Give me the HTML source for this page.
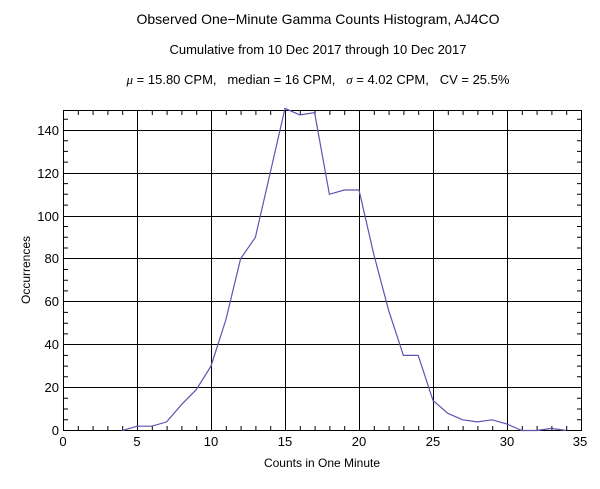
<!DOCTYPE html>
<html><head><style>
body{margin:0;background:#fff;}
svg{display:block;font-family:"Liberation Sans",sans-serif;}
</style></head><body>
<svg width="600" height="489" xmlns="http://www.w3.org/2000/svg">
<rect width="600" height="489" fill="#fff"/>
<text x="318" y="24" font-size="14" text-anchor="middle">Observed One−Minute Gamma Counts Histogram, AJ4CO</text>
<text x="318" y="54" font-size="13" text-anchor="middle">Cumulative from 10 Dec 2017 through 10 Dec 2017</text>
<text x="318" y="84" font-size="13" text-anchor="middle" style="white-space:pre"><tspan font-style="italic" font-family="Liberation Serif">μ</tspan> = 15.80 CPM,   median = 16 CPM,   <tspan font-style="italic" font-family="Liberation Serif">σ</tspan> = 4.02 CPM,   CV = 25.5%</text>
<g stroke="#000" stroke-width="1" fill="none">
<rect x="63.5" y="110.5" width="518" height="320"/>
<path d="M137.5 110V430M211.5 110V430M285.5 110V430M359.5 110V430M433.5 110V430M507.5 110V430"/>
<path d="M63 387.5H581M63 344.5H581M63 301.5H581M63 258.5H581M63 216.5H581M63 173.5H581M63 130.5H581"/>
<path d="M78.3 430V426M93.1 430V426M107.9 430V426M122.7 430V426M152.3 430V426M167.1 430V426M181.9 430V426M196.7 430V426M226.3 430V426M241.1 430V426M255.9 430V426M270.7 430V426M300.3 430V426M315.1 430V426M329.9 430V426M344.7 430V426M374.3 430V426M389.1 430V426M403.9 430V426M418.7 430V426M448.3 430V426M463.1 430V426M477.9 430V426M492.7 430V426M522.3 430V426M537.1 430V426M551.9 430V426M566.7 430V426"/>
<path d="M78.3 111V115M93.1 111V115M107.9 111V115M122.7 111V115M152.3 111V115M167.1 111V115M181.9 111V115M196.7 111V115M226.3 111V115M241.1 111V115M255.9 111V115M270.7 111V115M300.3 111V115M315.1 111V115M329.9 111V115M344.7 111V115M374.3 111V115M389.1 111V115M403.9 111V115M418.7 111V115M448.3 111V115M463.1 111V115M477.9 111V115M492.7 111V115M522.3 111V115M537.1 111V115M551.9 111V115M566.7 111V115"/>
<path d="M64 419.8H68M64 409H68M64 398.3H68M64 376.8H68M64 366.1H68M64 355.4H68M64 333.9H68M64 323.2H68M64 312.4H68M64 290.9H68M64 280.2H68M64 269.5H68M64 248H68M64 237.3H68M64 226.5H68M64 205.1H68M64 194.3H68M64 183.6H68M64 162.1H68M64 151.4H68M64 140.7H68M64 119.2H68"/>
<path d="M581 419.8H577M581 409H577M581 398.3H577M581 376.8H577M581 366.1H577M581 355.4H577M581 333.9H577M581 323.2H577M581 312.4H577M581 290.9H577M581 280.2H577M581 269.5H577M581 248H577M581 237.3H577M581 226.5H577M581 205.1H577M581 194.3H577M581 183.6H577M581 162.1H577M581 151.4H577M581 140.7H577M581 119.2H577"/>
</g>
<polyline fill="none" stroke="#5b55b0" stroke-width="1.2" points="122.2,430.5 137,426.2 151.8,426.2 166.6,421.9 181.4,404.7 196.2,389.7 211,366.1 225.8,320 240.6,258.7 255.4,237.3 270.2,172.9 285,108.4 299.8,114.9 314.6,112.7 329.4,194.3 344.2,190 359,190 373.8,254.4 388.6,310.3 403.4,355.4 418.2,355.4 433,400.4 447.8,413.3 462.6,419.8 477.4,421.9 492.2,419.8 507,424.1 521.8,430.5 536.6,430.5 551.4,428.4 566.2,430.5"/>
<g font-size="13" text-anchor="middle">
<text x="63" y="446">0</text><text x="137" y="446">5</text><text x="211" y="446">10</text><text x="285" y="446">15</text><text x="359" y="446">20</text><text x="433" y="446">25</text><text x="507" y="446">30</text><text x="580" y="446">35</text>
</g>
<g font-size="13" text-anchor="end">
<text x="59" y="435">0</text><text x="59" y="392">20</text><text x="59" y="349">40</text><text x="59" y="306">60</text><text x="59" y="263">80</text><text x="59" y="221">100</text><text x="59" y="178">120</text><text x="59" y="135">140</text>
</g>
<text x="322" y="467" font-size="12" text-anchor="middle">Counts in One Minute</text>
<text transform="translate(30,270) rotate(-90)" font-size="12" text-anchor="middle">Occurrences</text>
</svg>
</body></html>
